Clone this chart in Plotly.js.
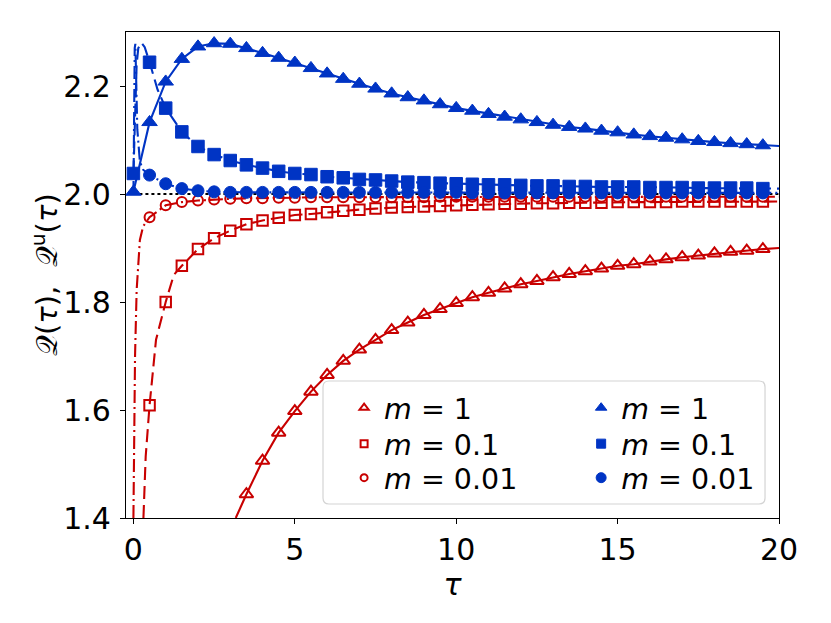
<!DOCTYPE html>
<html>
<head>
<meta charset="utf-8">
<script src="https://cdn.plot.ly/plotly-3.0.1.min.js"></script>
<style>
  html, body { margin: 0; padding: 0; background: #fff; }
  #chart { width: 831px; height: 623px; }
</style>
</head>
<body>
<div id="chart"></div>
<script>
// sample times of the markers
const tauMarks = [0, 0.5, 1, 1.5, 2, 2.5, 3, 3.5, 4, 4.5, 5, 5.5, 6, 6.5, 7, 7.5, 8, 8.5, 9, 9.5,
  10, 10.5, 11, 11.5, 12, 12.5, 13, 13.5, 14, 14.5, 15, 15.5, 16, 16.5, 17, 17.5, 18, 18.5, 19, 19.5];
const tauEnd = 20;

// Q(tau), red open markers
const qM1 = [1.444, 1.506, 1.558, 1.598, 1.634, 1.665, 1.691, 1.712, 1.730, 1.748, 1.762, 1.776, 1.787,
  1.798, 1.809, 1.817, 1.825, 1.833, 1.839, 1.846, 1.852, 1.857, 1.862, 1.867, 1.870, 1.875, 1.879,
  1.883, 1.886, 1.890, 1.893, 1.895, 1.898]; // from tau = 3.5
const qM01 = [1.609, 1.800, 1.867, 1.898, 1.918, 1.932, 1.944, 1.951, 1.956, 1.961, 1.963, 1.966, 1.969,
  1.971, 1.973, 1.975, 1.976, 1.977, 1.978, 1.979, 1.980, 1.981, 1.982, 1.982, 1.983, 1.983, 1.984,
  1.984, 1.984, 1.985, 1.985, 1.985, 1.985, 1.986, 1.986, 1.986, 1.986, 1.986, 1.986]; // from tau = 0.5
const qM001 = [1.957, 1.979, 1.985, 1.988, 1.990, 1.991, 1.992, 1.992, 1.993, 1.993, 1.994, 1.994, 1.994,
  1.994, 1.994, 1.994, 1.994, 1.994, 1.995, 1.995, 1.995, 1.995, 1.995, 1.995, 1.995, 1.995, 1.995,
  1.995, 1.995, 1.995, 1.995, 1.995, 1.995, 1.995, 1.995, 1.995, 1.995, 1.995, 1.995]; // from tau = 0.5

// Q^u(tau), blue filled markers
const quM1 = [2.004, 2.133, 2.208, 2.250, 2.273, 2.279, 2.278, 2.270, 2.261, 2.252, 2.243, 2.233, 2.223,
  2.213, 2.204, 2.195, 2.186, 2.179, 2.173, 2.166, 2.159, 2.154, 2.148, 2.143, 2.138, 2.133, 2.128,
  2.124, 2.121, 2.117, 2.114, 2.110, 2.107, 2.104, 2.101, 2.098, 2.096, 2.094, 2.092, 2.090];
const quM01 = [2.038, 2.244, 2.159, 2.115, 2.088, 2.073, 2.062, 2.054, 2.048, 2.042, 2.038, 2.036, 2.032,
  2.030, 2.027, 2.026, 2.024, 2.022, 2.021, 2.020, 2.019, 2.018, 2.017, 2.017, 2.016, 2.015, 2.015,
  2.014, 2.014, 2.013, 2.013, 2.013, 2.012, 2.012, 2.012, 2.011, 2.011, 2.011, 2.011, 2.010];
const quM001 = [2.035, 2.019, 2.010, 2.006, 2.004, 2.003, 2.003, 2.003, 2.003, 2.003, 2.003, 2.003, 2.003,
  2.003, 2.003, 2.003, 2.003, 2.003, 2.003, 2.003, 2.002, 2.002, 2.002, 2.002, 2.002, 2.002, 2.002,
  2.002, 2.002, 2.002, 2.002, 2.002, 2.002, 2.002, 2.002, 2.002, 2.002, 2.002, 2.002]; // from tau = 0.5

// curve values near tau = 0
const headM1Tau = [3.17];
const headM1Q = [1.40];
const headM01Tau = [0.31, 0.38, 0.5, 0.7, 1, 1.25];
const headM01Q = [1.40, 1.514, 1.609, 1.73, 1.80, 1.85];
const headM001Tau = [0.0, 0.02, 0.05, 0.1, 0.2, 0.3];
const headM001Q = [1.40, 1.576, 1.70, 1.822, 1.915, 1.94];
const headUM01Tau = [0, 0.05, 0.1, 0.15, 0.25, 0.35, 0.45, 0.5, 0.75];
const headUM01Q = [2.038, 2.15, 2.24, 2.27, 2.28, 2.272, 2.255, 2.244, 2.193];
const headUM001Tau = [0, 0.02, 0.04, 0.06, 0.08, 0.12, 0.2, 0.3];
const headUM001Q = [2.0, 2.18, 2.27, 2.278, 2.23, 2.12, 2.06, 2.045];

// curve values at tau = 20
const endM1 = 1.900, endM01 = 1.986, endM001 = 1.995;
const endUM1 = 2.089, endUM01 = 2.010, endUM001 = 2.002;

const asymptote = 2.0;
const legendLabels = ['<i>m</i> = 1', '<i>m</i> = 0.1', '<i>m</i> = 0.01'];

const RED = '#c80000';
const BLUE = '#0034c4';
const FONT = 'DejaVu Sans';

function curve(headTau, headQ, markTau, markQ, endQ) {
  const last = headTau.length ? headTau[headTau.length - 1] : -1;
  const x = headTau.slice();
  const y = headQ.slice();
  markTau.forEach((t, i) => {
    if (t > last) { x.push(t); y.push(markQ[i]); }
  });
  x.push(tauEnd);
  y.push(endQ);
  return { x, y };
}

function lineTrace(c, color, dash) {
  return {
    type: 'scatter', mode: 'lines', x: c.x, y: c.y, showlegend: false, hoverinfo: 'skip',
    line: { color, width: 2.1, dash },
  };
}

function openMarks(x, y, symbol, size) {
  return {
    type: 'scatter', mode: 'markers', x, y, showlegend: false,
    marker: { symbol, size, color: RED, line: { color: RED, width: 2 } },
  };
}

function filledMarks(x, y, symbol, size) {
  return {
    type: 'scatter', mode: 'markers', x, y, showlegend: false,
    marker: { symbol, size, color: BLUE, line: { color: BLUE, width: 1 } },
  };
}

function legendEntry(name, legend, symbol, size, filled) {
  const color = filled ? BLUE : RED;
  return {
    type: 'scatter', mode: 'markers', x: [null], y: [null], name, legend, showlegend: true,
    marker: { symbol, size, color, line: { color, width: filled ? 1 : 2 } },
  };
}

const DASH = '13px,6px';
const DASHDOT = '13px,4px,2px,4px';

const tauFrom05 = tauMarks.slice(1);
const tauFrom35 = tauMarks.slice(7);

const data = [
  {
    type: 'scatter', mode: 'lines', x: [0, tauEnd], y: [asymptote, asymptote],
    showlegend: false, hoverinfo: 'skip', line: { color: '#000', width: 2, dash: 'dot' },
  },
  lineTrace(curve(headM1Tau, headM1Q, tauFrom35, qM1, endM1), RED, 'solid'),
  lineTrace(curve(headM01Tau, headM01Q, tauFrom05, qM01, endM01), RED, DASH),
  lineTrace(curve(headM001Tau, headM001Q, tauFrom05, qM001, endM001), RED, DASHDOT),
  openMarks(tauFrom35, qM1, 'triangle-up-open', 12),
  openMarks(tauFrom05, qM01, 'square-open', 10.5),
  openMarks(tauFrom05, qM001, 'circle-open', 10),
  lineTrace(curve([], [], tauMarks, quM1, endUM1), BLUE, 'solid'),
  lineTrace(curve(headUM01Tau, headUM01Q, tauMarks, quM01, endUM01), BLUE, DASH),
  lineTrace(curve(headUM001Tau, headUM001Q, tauFrom05, quM001, endUM001), BLUE, DASHDOT),
  filledMarks(tauMarks, quM1, 'triangle-up', 13.5),
  filledMarks(tauMarks, quM01, 'square', 12.5),
  filledMarks(tauFrom05, quM001, 'circle', 12),
  legendEntry(legendLabels[0], 'legend', 'triangle-up-open', 8, false),
  legendEntry(legendLabels[1], 'legend2', 'square-open', 7, false),
  legendEntry(legendLabels[2], 'legend3', 'circle-open', 7, false),
  legendEntry(legendLabels[0], 'legend4', 'triangle-up', 10, true),
  legendEntry(legendLabels[1], 'legend5', 'square', 9, true),
  legendEntry(legendLabels[2], 'legend6', 'circle', 10, true),
];

// rounded legend frame (paper coordinates)
const bx0 = 0.3017, bx1 = 0.9786, by0 = 0.0288, by1 = 0.2819;
const rx = 6 / 653, ry = 6 / 486;
const framePath = `M${bx0 + rx},${by0} L${bx1 - rx},${by0} Q${bx1},${by0} ${bx1},${by0 + ry}`
  + ` L${bx1},${by1 - ry} Q${bx1},${by1} ${bx1 - rx},${by1} L${bx0 + rx},${by1}`
  + ` Q${bx0},${by1} ${bx0},${by1 - ry} L${bx0},${by0 + ry} Q${bx0},${by0} ${bx0 + rx},${by0} Z`;

// one legend per entry so the rows can sit as tight as in the reference
const colX = [0.334, 0.697];
const rowY = [0.226, 0.152, 0.082];
function legendBox(x, y) {
  return {
    x, y, xanchor: 'left', yanchor: 'middle', bgcolor: 'rgba(0,0,0,0)', borderwidth: 0,
    font: { family: FONT, size: 28.5, color: '#000' },
  };
}

const layout = {
  width: 831,
  height: 623,
  margin: { l: 126, r: 52, t: 32, b: 105 },
  paper_bgcolor: '#fff',
  plot_bgcolor: '#fff',
  font: { family: FONT, color: '#000' },
  xaxis: {
    range: [-0.23, tauEnd],
    tickvals: [0, 5, 10, 15, 20],
    ticks: 'outside', ticklen: 5, tickwidth: 1.2, tickcolor: '#000',
    showline: true, mirror: true, linecolor: '#000', linewidth: 1.2,
    showgrid: false, zeroline: false,
    tickfont: { family: FONT, size: 30 },
    title: { text: '<i>τ</i>', font: { family: FONT, size: 30 }, standoff: 2 },
  },
  yaxis: {
    range: [1.4, 2.3],
    tickvals: [1.4, 1.6, 1.8, 2.0, 2.2],
    tickformat: '.1f',
    ticks: 'outside', ticklen: 5, tickwidth: 1.2, tickcolor: '#000',
    ticklabelstandoff: 3,
    showline: true, mirror: true, linecolor: '#000', linewidth: 1.2,
    showgrid: false, zeroline: false,
    tickfont: { family: FONT, size: 30 },
  },
  legend: legendBox(colX[0], rowY[0]),
  legend2: legendBox(colX[0], rowY[1]),
  legend3: legendBox(colX[0], rowY[2]),
  legend4: legendBox(colX[1], rowY[0]),
  legend5: legendBox(colX[1], rowY[1]),
  legend6: legendBox(colX[1], rowY[2]),
  annotations: [{
    text: '𝒬(<i>τ</i>),  𝒬<sup>u</sup>(<i>τ</i>)',
    xref: 'paper', yref: 'paper', x: -0.124, y: 0.5, xanchor: 'center', yanchor: 'middle',
    textangle: -90, showarrow: false, font: { family: FONT, size: 29, color: '#000' },
  }],
  shapes: [{
    type: 'path', xref: 'paper', yref: 'paper', path: framePath, layer: 'above',
    fillcolor: 'rgba(255,255,255,0.8)', line: { color: '#d4d4d4', width: 1.2 },
  }],
};

Plotly.newPlot('chart', data, layout, { displayModeBar: false, responsive: false });
</script>
</body>
</html>
